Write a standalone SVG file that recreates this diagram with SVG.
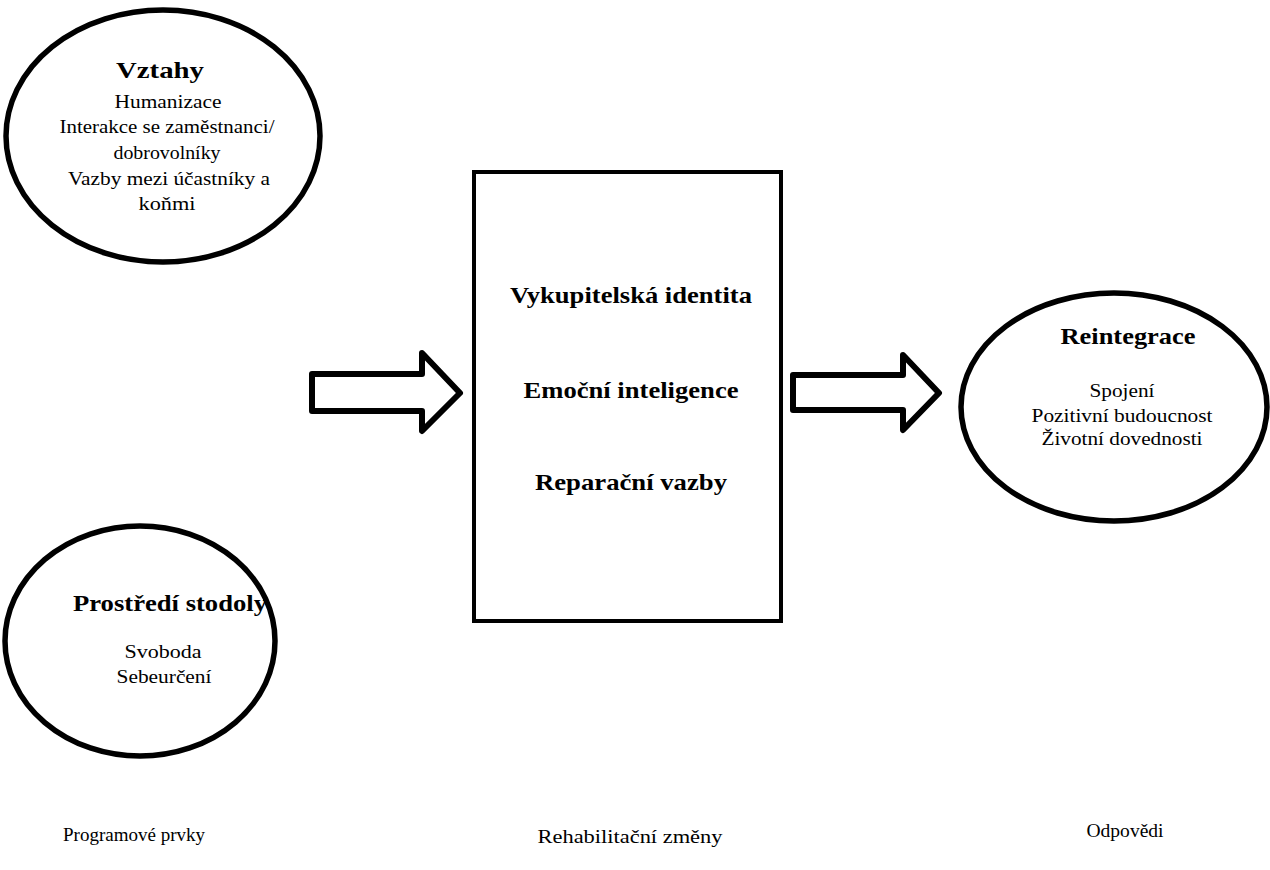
<svg xmlns="http://www.w3.org/2000/svg" width="1270" height="870" viewBox="0 0 1270 870">
<style>
.shape{fill:#fff;stroke:#000;stroke-width:5.5}
.arrow{fill:#fff;stroke:#000;stroke-width:6;stroke-linejoin:round}
text{font-family:"Liberation Serif","Times New Roman","DejaVu Serif",serif;fill:#000;text-anchor:middle}
.t{font-size:24px;font-weight:bold}
.b{font-size:23px;font-weight:bold}
.s{font-size:18px}
.l{font-size:19px}
</style>
<rect width="1270" height="870" fill="#fff"/>
<g id="vztahy">
<ellipse class="shape" cx="163" cy="136" rx="157" ry="126"/>
<text class="t" x="160" y="78" textLength="88" lengthAdjust="spacingAndGlyphs">Vztahy</text>
<text class="s" x="168" y="108" textLength="107" lengthAdjust="spacingAndGlyphs">Humanizace</text>
<text class="s" x="167" y="133" textLength="215" lengthAdjust="spacingAndGlyphs">Interakce se zaměstnanci/</text>
<text class="s" x="167" y="159" textLength="107" lengthAdjust="spacingAndGlyphs">dobrovolníky</text>
<text class="s" x="169" y="185" textLength="202" lengthAdjust="spacingAndGlyphs">Vazby mezi účastníky a</text>
<text class="s" x="167" y="210" textLength="57" lengthAdjust="spacingAndGlyphs">koňmi</text>
</g>
<g id="prostredi">
<ellipse class="shape" cx="140" cy="641" rx="135" ry="115"/>
<text class="t" x="170" y="611" textLength="194" lengthAdjust="spacingAndGlyphs">Prostředí stodoly</text>
<text class="s" x="163" y="658" textLength="77" lengthAdjust="spacingAndGlyphs">Svoboda</text>
<text class="s" x="164" y="683" textLength="95" lengthAdjust="spacingAndGlyphs">Sebeurčení</text>
</g>
<g id="rehabilitace">
<rect x="474" y="172" width="307" height="449" fill="#fff" stroke="#000" stroke-width="4"/>
<text class="b" x="631" y="303" textLength="242" lengthAdjust="spacingAndGlyphs">Vykupitelská identita</text>
<text class="b" x="631" y="398" textLength="215" lengthAdjust="spacingAndGlyphs">Emoční inteligence</text>
<text class="b" x="631" y="490" textLength="192" lengthAdjust="spacingAndGlyphs">Reparační vazby</text>
</g>
<g id="reintegrace">
<ellipse class="shape" cx="1114" cy="407" rx="153" ry="114"/>
<text class="t" x="1128" y="344" textLength="135" lengthAdjust="spacingAndGlyphs">Reintegrace</text>
<text class="s" x="1122" y="397" textLength="65" lengthAdjust="spacingAndGlyphs">Spojení</text>
<text class="s" x="1122" y="422" textLength="181" lengthAdjust="spacingAndGlyphs">Pozitivní budoucnost</text>
<text class="s" x="1122" y="445" textLength="161" lengthAdjust="spacingAndGlyphs">Životní dovednosti</text>
</g>
<g id="connectors">
<path class="arrow" d="M312 374 L422 374 L422 353 L460 393 L422 431 L422 411 L312 411 Z"/>
<path class="arrow" d="M793 375 L903 375 L903 355 L939 393 L903 430 L903 410 L793 410 Z"/>
</g>
<g id="labels">
<text class="l" x="134" y="841" textLength="142" lengthAdjust="spacingAndGlyphs">Programové prvky</text>
<text class="l" x="630" y="843" textLength="185" lengthAdjust="spacingAndGlyphs">Rehabilitační změny</text>
<text class="l" x="1125" y="837" textLength="77" lengthAdjust="spacingAndGlyphs">Odpovědi</text>
</g>
</svg>
